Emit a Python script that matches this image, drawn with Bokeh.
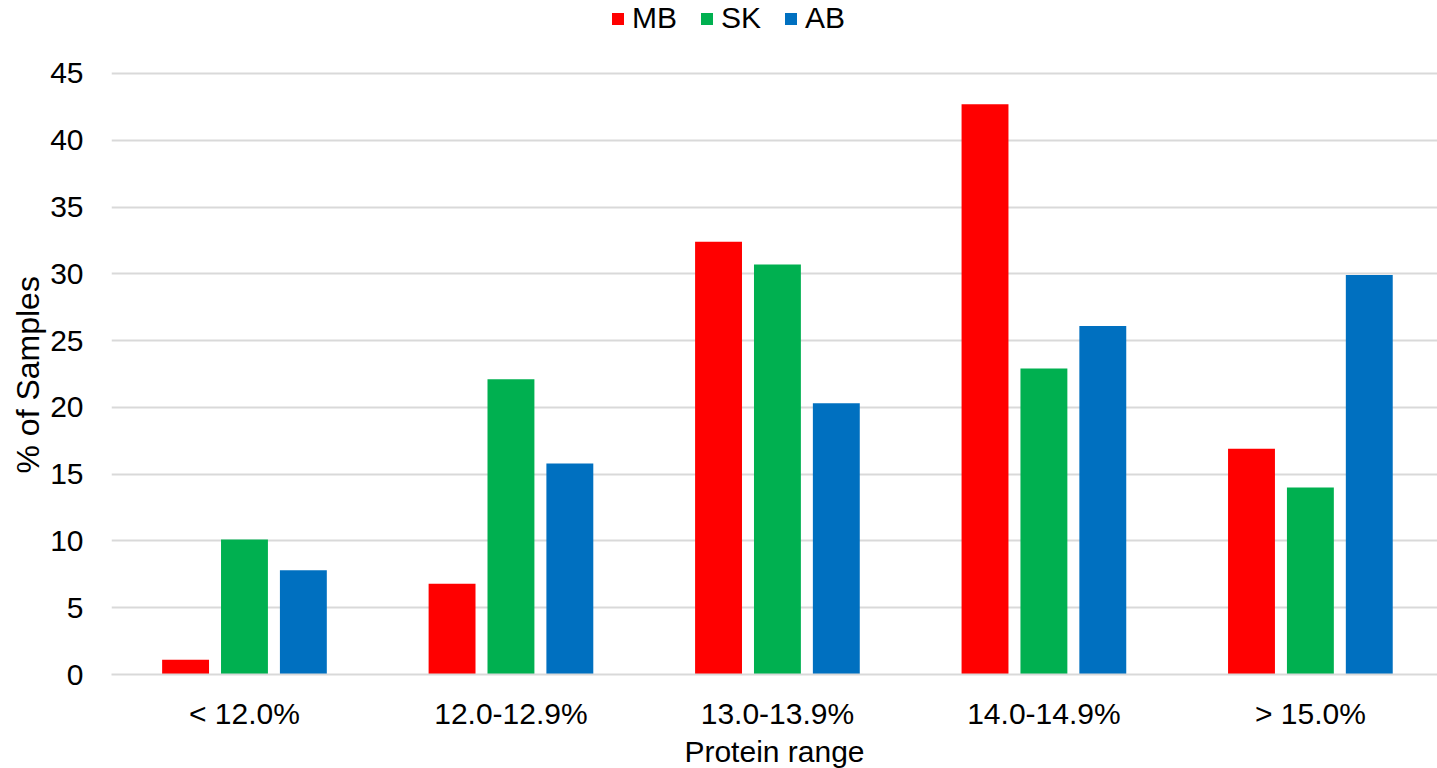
from bokeh.plotting import figure
from bokeh.models import FixedTicker, Legend, LegendItem, ColumnDataSource, Range1d, Title
from bokeh.embed import file_html
from bokeh.resources import INLINE

categories = ["< 12.0%", "12.0-12.9%", "13.0-13.9%", "14.0-14.9%", "> 15.0%"]
series_names = ["MB", "SK", "AB"]
mb = [1.1, 6.8, 32.4, 42.7, 16.9]
sk = [10.1, 22.1, 30.7, 22.9, 14.0]
ab = [7.8, 15.8, 20.3, 26.1, 29.9]
colors = ["#FF0000", "#00B050", "#0070C0"]
y_ticks = [0, 5, 10, 15, 20, 25, 30, 35, 40, 45]

FONT = "Liberation Sans"
FS = "30px"

# frame extends above the 45 gridline to leave room for the legend
p = figure(
    frame_width=1326, frame_height=674,
    min_border_left=111, min_border_right=0, min_border_top=0, min_border_bottom=90,
    x_range=Range1d(-0.499, 4.477), y_range=Range1d(0, 50.46),
    output_backend="svg", toolbar_location=None,
)

xs = list(range(len(categories)))
offsets = [-0.221, 0.0, 0.221]
renderers = []
for vals, name, col, off in zip([mb, sk, ab], series_names, colors, offsets):
    src = ColumnDataSource(dict(x=[x + off for x in xs], top=vals, cat=categories))
    r = p.vbar(x="x", top="top", width=0.176, bottom=0, source=src,
               fill_color=col, line_color=None)
    renderers.append(r)

p.xaxis.ticker = FixedTicker(ticks=xs)
p.xaxis.major_label_overrides = {i: c for i, c in enumerate(categories)}
p.yaxis.ticker = FixedTicker(ticks=y_ticks)

for ax in (p.xaxis[0], p.yaxis[0]):
    ax.major_tick_line_color = None
    ax.minor_tick_line_color = None
    ax.major_tick_in = 0
    ax.major_tick_out = 0
    ax.minor_tick_in = 0
    ax.minor_tick_out = 0
    ax.major_label_text_font = FONT
    ax.major_label_text_font_size = FS
    ax.major_label_text_color = "#000000"
    ax.axis_label_text_font = FONT
    ax.axis_label_text_font_size = FS
    ax.axis_label_text_font_style = "normal"
    ax.axis_label_text_color = "#000000"

p.xaxis.axis_line_color = "#d9d9d9"
p.xaxis.axis_line_width = 2
p.xaxis.major_label_standoff = 22
p.xaxis.axis_label = "Protein range"
p.xaxis.axis_label_standoff = 2

p.yaxis.axis_line_color = None
p.yaxis.major_label_standoff = 28

ytitle = Title(text="% of Samples", align="left", offset=201,
               text_font=FONT, text_font_size="32px", text_font_style="normal",
               text_color="#000000", standoff=4)
p.add_layout(ytitle, "left")

p.xgrid.grid_line_color = None
p.ygrid.grid_line_color = "#d9d9d9"
p.ygrid.grid_line_width = 2
p.outline_line_color = None

legend = Legend(
    items=[LegendItem(label=n, renderers=[r]) for n, r in zip(series_names, renderers)],
    orientation="horizontal", location=(499, 639),
    label_text_font=FONT, label_text_font_size=FS, label_text_color="#000000",
    glyph_width=15, glyph_height=15, label_standoff=7, spacing=22,
    padding=0, margin=0, border_line_color=None, background_fill_alpha=0,
    label_height=26,
)
p.add_layout(legend, "center")

open("out.html", "w").write(file_html(p, INLINE))
